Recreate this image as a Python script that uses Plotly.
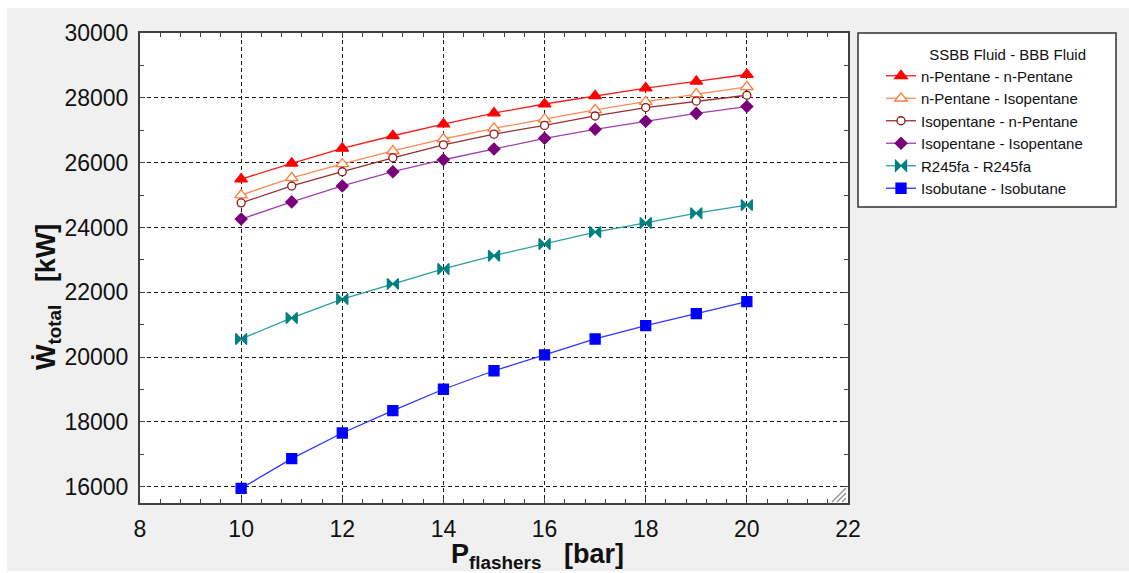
import plotly.graph_objects as go

# Flasher pressure [bar]
p_flashers = [10, 11, 12, 13, 14, 15, 16, 17, 18, 19, 20]

# Total net power [kW] for each SSBB / BBB working-fluid pair
npentane_npentane = [25490, 25980, 26440, 26830, 27190, 27530, 27810, 28060, 28300, 28510, 28720]
npentane_isopentane = [25000, 25530, 25960, 26360, 26730, 27060, 27340, 27630, 27880, 28120, 28340]
isopentane_npentane = [24760, 25280, 25720, 26150, 26550, 26880, 27150, 27440, 27700, 27900, 28080]
isopentane_isopentane = [24260, 24790, 25280, 25720, 26090, 26420, 26750, 27030, 27280, 27520, 27730]
r245fa_r245fa = [20560, 21210, 21790, 22260, 22720, 23130, 23490, 23860, 24140, 24440, 24690]
isobutane_isobutane = [15950, 16870, 17660, 18350, 19010, 19580, 20070, 20560, 20970, 21340, 21710]

series_names = [
    "n-Pentane - n-Pentane",
    "n-Pentane - Isopentane",
    "Isopentane - n-Pentane",
    "Isopentane - Isopentane",
    "R245fa - R245fa",
    "Isobutane - Isobutane",
]
series_values = [
    npentane_npentane,
    npentane_isopentane,
    isopentane_npentane,
    isopentane_isopentane,
    r245fa_r245fa,
    isobutane_isobutane,
]
# (line colour, marker symbol, marker fill, marker edge, marker size)
series_styles = [
    ("#ff1a1a", "triangle-up", "#ff0000", "#ff0000", 11),
    ("#ff8a55", "triangle-up", "#ffffff", "#ff7a3a", 11),
    ("#9a2e2e", "circle", "#ffffff", "#8b1a1a", 8),
    ("#a040b0", "diamond", "#7a007a", "#7a007a", 9),
    ("#2a9d9d", "bowtie", "#008080", "#008080", 11),
    ("#3333ff", "square", "#0000ff", "#0000ff", 10),
]

FONT = "Liberation Sans, Arial, sans-serif"
W, H = 1129, 573
L, R, T, B = 140, 848, 33, 503  # plot area edges in pixels


def px_x(x):
    return (x - L) / (R - L)


def px_y(y):
    return (B - y) / (B - T)


fig = go.Figure()
for name, vals, (lc, sym, fill, edge, size) in zip(series_names, series_values, series_styles):
    fig.add_trace(go.Scatter(
        x=p_flashers, y=vals, name=name, mode="lines+markers",
        line=dict(color=lc, width=1.3),
        marker=dict(symbol=sym, size=size, color=fill, line=dict(color=edge, width=1.3)),
    ))

axis_common = dict(
    showline=True, linecolor="#404040", linewidth=2, mirror="ticks",
    ticks="inside", ticklen=5, tickcolor="#404040",
    showgrid=True, gridcolor="#1a1a1a", gridwidth=1, griddash="4px,3px",
    zeroline=False, tickformat="d",
    tickfont=dict(family=FONT, size=23, color="#111111"),
)

fig.update_xaxes(
    range=[8, 22], tick0=8, dtick=2, ticklabelstandoff=4,
    minor=dict(dtick=0.4, ticks="inside", ticklen=4, tickcolor="#404040", showgrid=False),
    **axis_common,
)
fig.update_yaxes(
    range=[15500, 30000], tick0=16000, dtick=2000, ticklabelstandoff=5,
    minor=dict(dtick=1000, ticks="inside", ticklen=4, tickcolor="#404040", showgrid=False),
    **axis_common,
)

shapes = [
    # white border strips around the grey panel
    dict(type="rect", xref="paper", yref="paper", x0=px_x(0), x1=px_x(W), y0=px_y(8), y1=px_y(0),
         fillcolor="white", line=dict(width=0), layer="below"),
    dict(type="rect", xref="paper", yref="paper", x0=px_x(0), x1=px_x(7), y0=px_y(W), y1=px_y(0),
         fillcolor="white", line=dict(width=0), layer="below"),
    dict(type="rect", xref="paper", yref="paper", x0=px_x(0), x1=px_x(W), y0=px_y(W), y1=px_y(571),
         fillcolor="white", line=dict(width=0), layer="below"),
    # legend frame
    dict(type="rect", xref="paper", yref="paper", x0=px_x(858), x1=px_x(1116), y0=px_y(207), y1=px_y(33),
         fillcolor="white", line=dict(color="#303030", width=1.5), layer="below"),
]
# resize grip in the lower-right corner of the plot frame
for a, b in [(488, 832), (493, 837), (498, 842)]:
    shapes.append(dict(type="line", xref="paper", yref="paper",
                       x0=px_x(846), y0=px_y(a), x1=px_x(b), y1=px_y(502),
                       line=dict(color="#8a8a8a", width=1.3)))

annotations = [
    dict(text="<b>P<sub>flashers</sub>&#160;&#160;&#160;[bar]</b>", xref="paper", yref="paper",
         x=px_x(537), y=px_y(556), xanchor="center", yanchor="middle", showarrow=False,
         font=dict(family=FONT, size=27, color="#111111")),
    dict(text="<b>Ẇ<sub>total</sub>&#160;&#160;&#160;[kW]</b>", xref="paper", yref="paper",
         x=px_x(48), y=px_y(297), xanchor="center", yanchor="middle", showarrow=False,
         textangle=-90, font=dict(family=FONT, size=27, color="#111111")),
]

fig.update_layout(
    width=W, height=H,
    margin=dict(l=L, r=W - R, t=T, b=H - B),
    paper_bgcolor="#f0f0f0", plot_bgcolor="white",
    shapes=shapes, annotations=annotations,
    showlegend=True,
    legend=dict(
        x=px_x(881), y=px_y(40), xanchor="left", yanchor="top",
        bgcolor="rgba(0,0,0,0)", borderwidth=0,
        font=dict(family=FONT, size=15, color="#111111"),
        title=dict(text="SSBB Fluid - BBB Fluid", side="top right",
                   font=dict(family=FONT, size=15, color="#111111")),
        itemwidth=30,
    ),
)

fig.write_html("out.html")
